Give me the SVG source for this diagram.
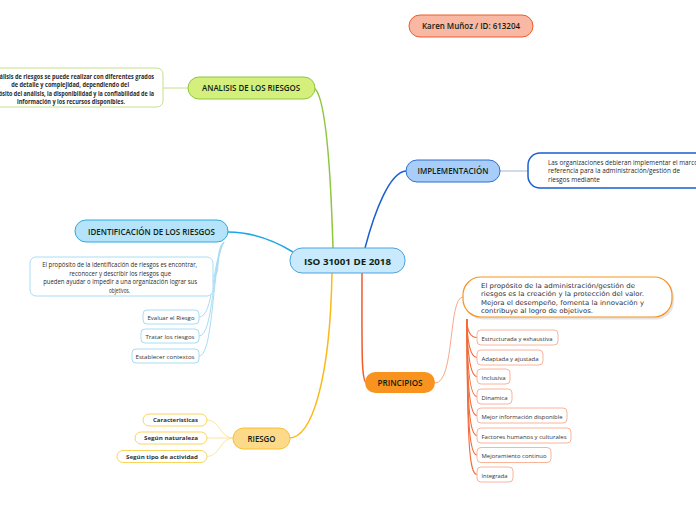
<svg xmlns="http://www.w3.org/2000/svg" width="696" height="520" viewBox="0 0 696 520">
<style>
.lbl{font-family:"Open Sans","Noto Sans",sans-serif;font-size:8px;fill:#0f1f12;text-anchor:middle;font-weight:600}
.small{font-family:"Open Sans","Noto Sans",sans-serif;font-size:6px;fill:#333}
.desc{font-family:"Open Sans","Noto Sans",sans-serif;font-size:6.5px;fill:#2a2a2a}
.bold{font-weight:bold}
.mid{text-anchor:middle}
.verd{font-family:"DejaVu Sans","Noto Sans",sans-serif;font-size:6.6px;fill:#333}
.c{fill:none}
.wbox{fill:#fff}
</style>
<rect width="696" height="520" fill="#fff"/>
<g id="connectors" class="c">
  <path d="M333,248 C331,180 326,95 314,88" stroke="#8dc63f" stroke-width="1.5"/>
  <path d="M365,248 C375,210 390,172 406,171" stroke="#1a5fcf" stroke-width="1.5"/>
  <path d="M293,252 C270,238 250,232 228,232" stroke="#1ba8e6" stroke-width="1.5"/>
  <path d="M362,273 C362,350 361,383 367,383" stroke="#f15a29" stroke-width="1.5"/>
  <path d="M332,273 C330,380 312,438 289,438" stroke="#fbb817" stroke-width="1.5"/>
  <path d="M163,88 L188,88" stroke="#c5e08a" stroke-width="1"/>
  <path d="M500,171 L528,171" stroke="#a3b8d6" stroke-width="1"/>
  <path d="M224,242 C214,250 222,276 213,276" stroke="#a8dcf5" stroke-width="1"/>
  <path d="M224,242 C212,260 214,317 199,317" stroke="#a8dcf5" stroke-width="1"/>
  <path d="M224,242 C212,260 214,336 199,336" stroke="#a8dcf5" stroke-width="1"/>
  <path d="M224,242 C212,260 214,356 199,356" stroke="#a8dcf5" stroke-width="1"/>
  <path d="M435,383 C455,383 448,297 463,297" stroke="#f7a98a" stroke-width="1"/>
  <g stroke="#f26b3a" stroke-width="1.1">
    <path d="M467,319 C467,330 470,337.5 477,337.5"/>
    <path d="M467,319 C467,340 470,357.5 477,357.5"/>
    <path d="M467,319 C467,350 470,376.5 477,376.5"/>
    <path d="M467,319 C467,370 470,396.5 477,396.5"/>
    <path d="M467,319 C467,390 470,415.5 477,415.5"/>
    <path d="M467,319 C467,410 470,435.5 477,435.5"/>
    <path d="M467,319 C467,430 470,455 477,455"/>
    <path d="M467,319 C467,450 470,474.5 477,474.5"/>
  </g>
  <path d="M233,438 C220,438 220,420 207,420" stroke="#fde39a" stroke-width="1"/>
  <path d="M233,438 L207,438" stroke="#fde39a" stroke-width="1"/>
  <path d="M233,438 C220,438 220,456.5 207,456.5" stroke="#fde39a" stroke-width="1"/>
</g>
<g id="karen">
  <rect x="409" y="15" width="124" height="22" rx="11" fill="#f9b8a3" stroke="#f15a29" stroke-width="1"/>
  <text x="471" y="29" class="lbl" font-size="8.5" textLength="98" lengthAdjust="spacingAndGlyphs">Karen Muñoz / ID: 613204</text>
</g>
<g id="central">
  <rect x="290" y="248" width="115" height="25" rx="12" fill="#c8eafc" stroke="#4aa3df" stroke-width="1"/>
  <text x="347.5" y="264.5" class="lbl bold" font-size="10.5" textLength="87" lengthAdjust="spacingAndGlyphs">ISO 31001 DE 2018</text>
</g>
<g id="analisis">
  <rect x="188" y="77" width="127" height="22" rx="11" fill="#d4ef7b" stroke="#8dc63f" stroke-width="1"/>
  <text x="251" y="91" class="lbl" textLength="98" lengthAdjust="spacingAndGlyphs">ANALISIS DE LOS RIESGOS</text>
</g>
<g id="analisis-desc">
  <rect x="-25" y="68" width="188" height="39" rx="6" class="wbox" stroke="#c5e08a" stroke-width="1"/>
  <text class="desc bold mid" font-size="6.2">
    <tspan x="71" y="78.5" textLength="168" lengthAdjust="spacingAndGlyphs">El análisis de riesgos se puede realizar con diferentes grados</tspan>
    <tspan x="71" y="87" textLength="118" lengthAdjust="spacingAndGlyphs">de detalle y complejidad, dependiendo del</tspan>
    <tspan x="71" y="95.5" textLength="168" lengthAdjust="spacingAndGlyphs">propósito del análisis, la disponibilidad y la confiabilidad de la</tspan>
    <tspan x="71" y="104" textLength="108" lengthAdjust="spacingAndGlyphs">información y los recursos disponibles.</tspan>
  </text>
</g>
<g id="implementacion">
  <rect x="406" y="160" width="94" height="22" rx="11" fill="#a9cdf9" stroke="#2f6fd0" stroke-width="1"/>
  <text x="453" y="174" class="lbl" textLength="71" lengthAdjust="spacingAndGlyphs">IMPLEMENTACIÓN</text>
</g>
<g id="implementacion-desc">
  <rect x="528" y="153" width="190" height="35" rx="12" class="wbox" stroke="#1a5fcf" stroke-width="1.5"/>
  <text class="desc">
    <tspan x="548" y="164.5" textLength="150" lengthAdjust="spacingAndGlyphs">Las organizaciones debieran implementar el marco</tspan>
    <tspan x="548" y="173" textLength="132" lengthAdjust="spacingAndGlyphs">referencia para la administración/gestión de</tspan>
    <tspan x="548" y="181.5" textLength="52" lengthAdjust="spacingAndGlyphs">riesgos mediante</tspan>
  </text>
</g>
<g id="identificacion">
  <rect x="75" y="220" width="153" height="22" rx="11" fill="#b5e3f9" stroke="#29abe2" stroke-width="1"/>
  <text x="151.5" y="234.5" class="lbl" textLength="127" lengthAdjust="spacingAndGlyphs">IDENTIFICACIÓN DE LOS RIESGOS</text>
</g>
<g id="identificacion-desc">
  <rect x="30" y="257" width="183" height="39" rx="6" class="wbox" stroke="#a8dcf5" stroke-width="1"/>
  <text class="desc mid" font-size="6.2">
    <tspan x="120.5" y="267" textLength="155" lengthAdjust="spacingAndGlyphs">El propósito de la identificación de riesgos es encontrar,</tspan>
    <tspan x="121" y="275.5" textLength="102" lengthAdjust="spacingAndGlyphs">reconocer y describir los riesgos que</tspan>
    <tspan x="121" y="284" textLength="154" lengthAdjust="spacingAndGlyphs">pueden ayudar o impedir a una organización lograr sus</tspan>
    <tspan x="119.5" y="292.5" textLength="21" lengthAdjust="spacingAndGlyphs">objetivos.</tspan>
  </text>
</g>
<g id="evaluar">
  <rect x="143" y="310" width="56" height="14" rx="4" class="wbox" stroke="#a8dcf5" stroke-width="1"/>
  <text x="171" y="319.5" class="small mid" textLength="47" lengthAdjust="spacingAndGlyphs">Evaluar el Riesgo</text>
</g>
<g id="tratar">
  <rect x="141" y="329" width="58" height="14" rx="4" class="wbox" stroke="#a8dcf5" stroke-width="1"/>
  <text x="170" y="338.5" class="small mid" textLength="49" lengthAdjust="spacingAndGlyphs">Tratar los riesgos</text>
</g>
<g id="establecer">
  <rect x="132" y="349" width="67" height="14" rx="4" class="wbox" stroke="#a8dcf5" stroke-width="1"/>
  <text x="165" y="358.5" class="small mid" textLength="59" lengthAdjust="spacingAndGlyphs">Establecer contextos</text>
</g>
<g id="principios">
  <rect x="365" y="372" width="70" height="21" rx="10.5" fill="#f7931e"/>
  <text x="400" y="386" class="lbl" textLength="45" lengthAdjust="spacingAndGlyphs">PRINCIPIOS</text>
</g>
<g id="principios-desc">
  <rect x="465" y="279.5" width="209" height="40" rx="18" fill="#d8d8d8" opacity="0.7"/>
  <rect x="463" y="277" width="209" height="40" rx="18" class="wbox" stroke="#f7931e" stroke-width="1.2"/>
  <text class="verd">
    <tspan x="481" y="287.5" textLength="154" lengthAdjust="spacingAndGlyphs">El propósito de la administración/gestión de</tspan>
    <tspan x="481" y="296" textLength="163" lengthAdjust="spacingAndGlyphs">riesgos es la creación y la protección del valor.</tspan>
    <tspan x="481" y="304.5" textLength="163" lengthAdjust="spacingAndGlyphs">Mejora el desempeño, fomenta la innovación y</tspan>
    <tspan x="481" y="313" textLength="112" lengthAdjust="spacingAndGlyphs">contribuye al logro de objetivos.</tspan>
  </text>
</g>
<g id="p1">
  <rect x="477" y="330" width="81" height="15" rx="4" class="wbox" stroke="#f9b49a" stroke-width="1"/>
  <text x="481.5" y="340.5" class="small" textLength="71" lengthAdjust="spacingAndGlyphs">Estructurada y exhaustiva</text>
</g>
<g id="p2">
  <rect x="477" y="350" width="66" height="15" rx="4" class="wbox" stroke="#f9b49a" stroke-width="1"/>
  <text x="481.5" y="360.5" class="small" textLength="57" lengthAdjust="spacingAndGlyphs">Adaptada y ajustada</text>
</g>
<g id="p3">
  <rect x="477" y="369" width="33" height="15" rx="4" class="wbox" stroke="#f9b49a" stroke-width="1"/>
  <text x="481.5" y="379.5" class="small" textLength="24" lengthAdjust="spacingAndGlyphs">Inclusiva</text>
</g>
<g id="p4">
  <rect x="477" y="389" width="35" height="15" rx="4" class="wbox" stroke="#f9b49a" stroke-width="1"/>
  <text x="481.5" y="399.5" class="small" textLength="26" lengthAdjust="spacingAndGlyphs">Dinamica</text>
</g>
<g id="p5">
  <rect x="477" y="408" width="90" height="15" rx="4" class="wbox" stroke="#f9b49a" stroke-width="1"/>
  <text x="481.5" y="418.5" class="small" textLength="81" lengthAdjust="spacingAndGlyphs">Mejor información disponible</text>
</g>
<g id="p6">
  <rect x="477" y="428" width="94" height="15" rx="4" class="wbox" stroke="#f9b49a" stroke-width="1"/>
  <text x="481.5" y="438.5" class="small" textLength="85" lengthAdjust="spacingAndGlyphs">Factores humanos y culturales</text>
</g>
<g id="p7">
  <rect x="477" y="447.5" width="74" height="15" rx="4" class="wbox" stroke="#f9b49a" stroke-width="1"/>
  <text x="481.5" y="458" class="small" textLength="65" lengthAdjust="spacingAndGlyphs">Mejoramiento continuo</text>
</g>
<g id="p8">
  <rect x="477" y="467" width="36" height="15" rx="4" class="wbox" stroke="#f9b49a" stroke-width="1"/>
  <text x="481.5" y="477.5" class="small" textLength="26" lengthAdjust="spacingAndGlyphs">Integrada</text>
</g>
<g id="riesgo">
  <rect x="233" y="428" width="57" height="21" rx="10.5" fill="#fdd98a" stroke="#fbc02d" stroke-width="1"/>
  <text x="261.5" y="442" class="lbl" textLength="28" lengthAdjust="spacingAndGlyphs">RIESGO</text>
</g>
<g id="caracteristicas">
  <rect x="143" y="414" width="64" height="12" rx="6" class="wbox" stroke="#f9d560" stroke-width="1"/>
  <text x="175.5" y="422.3" class="small bold mid" fill="#222" textLength="45" lengthAdjust="spacingAndGlyphs">Caracteristicas</text>
</g>
<g id="naturaleza">
  <rect x="135" y="432" width="72" height="12" rx="6" class="wbox" stroke="#f9d560" stroke-width="1"/>
  <text x="171" y="440.3" class="small bold mid" fill="#222" textLength="54" lengthAdjust="spacingAndGlyphs">Según naturaleza</text>
</g>
<g id="actividad">
  <rect x="117" y="450.5" width="90" height="12" rx="6" class="wbox" stroke="#f9d560" stroke-width="1"/>
  <text x="162" y="458.8" class="small bold mid" fill="#222" textLength="72" lengthAdjust="spacingAndGlyphs">Según tipo de actividad</text>
</g>
</svg>
